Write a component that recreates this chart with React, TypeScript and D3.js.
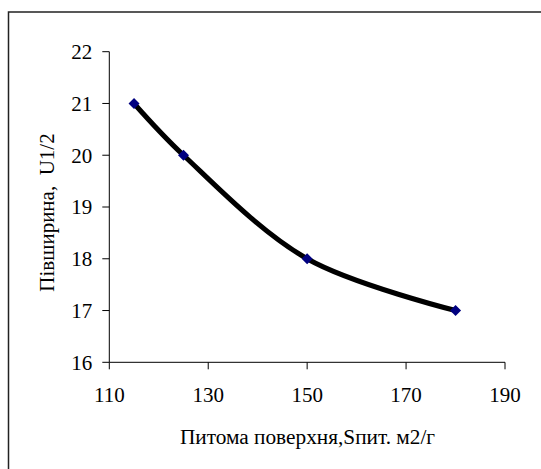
import React from "react";
import * as d3 from "d3";

const xValues = [115, 125, 150, 180];
const yValues = [21, 20, 18, 17];
const xTicks = [110, 130, 150, 170, 190];
const yTicks = [16, 17, 18, 19, 20, 21, 22];
const xTitle = "Питома поверхня,Sпит. м2/г";
const yTitle = "Півширина,  U1/2";

export default function App() {
  const W = 541;
  const H = 469;
  const x = d3.scaleLinear().domain([110, 190]).range([109.3, 505]);
  const y = d3.scaleLinear().domain([16, 22]).range([362.3, 51.7]);
  const pts: [number, number][] = xValues.map((v, i) => [x(v), y(yValues[i])]);
  const line = d3.line().curve(d3.curveCatmullRom.alpha(0.5))(pts) || "";
  const ts = { fontFamily: "'Liberation Serif', 'Times New Roman', serif", whiteSpace: "pre" as const };
  const ms = 5.5;
  return (
    <svg
      width={W}
      height={H}
      style={{ position: "absolute", left: 0, top: 0, background: "#fff" }}
    >
      <rect x={8.5} y={12} width={W} height={H} fill="#fff" stroke="#222" strokeWidth={1.5} />
      <line x1={x(110)} x2={x(110)} y1={y(22)} y2={y(16)} stroke="#000" strokeWidth={1} />
      <line x1={x(110)} x2={x(190)} y1={y(16)} y2={y(16)} stroke="#000" strokeWidth={1} />
      {yTicks.map((t) => (
        <g key={"y" + t}>
          <line x1={x(110) - 7} x2={x(110)} y1={y(t)} y2={y(t)} stroke="#000" />
          <text
            x={x(110) - 17}
            y={y(t)}
            dy="0.35em"
            textAnchor="end"
            style={ts}
            fontSize={21}
            fill="#000"
          >
            {t}
          </text>
        </g>
      ))}
      {xTicks.map((t) => (
        <g key={"x" + t}>
          <line x1={x(t)} x2={x(t)} y1={y(16)} y2={y(16) + 7} stroke="#000" />
          <text x={x(t)} y={401.5} textAnchor="middle" style={ts} fontSize={21} fill="#000">
            {t}
          </text>
        </g>
      ))}
      <path d={line} fill="none" stroke="#000" strokeWidth={5} strokeLinejoin="round" />
      {pts.map(([px, py], i) => (
        <path
          key={"m" + i}
          d={`M${px},${py - ms}L${px + ms},${py}L${px},${py + ms}L${px - ms},${py}Z`}
          fill="#000080"
        />
      ))}
      <text x={307.5} y={444} textAnchor="middle" style={ts} fontSize={21.3} fill="#000">
        {xTitle}
      </text>
      <text
        transform={`translate(54,212.5) rotate(-90)`}
        textAnchor="middle"
        style={ts}
        fontSize={21}
        fill="#000"
      >
        {yTitle}
      </text>
    </svg>
  );
}
